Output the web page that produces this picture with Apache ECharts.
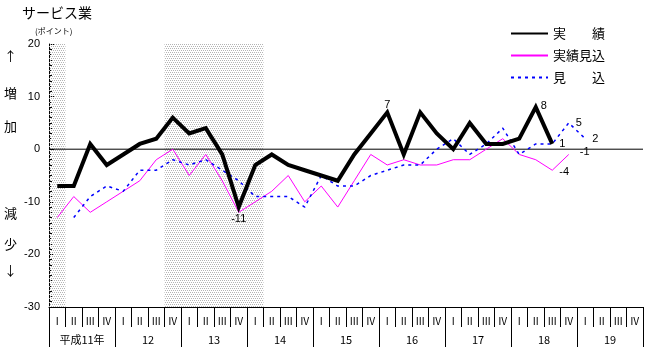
<!DOCTYPE html>
<html>
<head>
<meta charset="utf-8">
<script src="https://cdn.jsdelivr.net/npm/echarts@6/dist/echarts.min.js"></script>
<style>
  html, body { margin: 0; padding: 0; background: #fff; }
  #chart { width: 646px; height: 350px; }
</style>
</head>
<body>
<div id="chart"></div>
<script>
// Fiscal years (Heisei) and quarter labels
const years = ['平成11年', '12', '13', '14', '15', '16', '17', '18', '19'];
const quarterNames = ['Ⅰ', 'Ⅱ', 'Ⅲ', 'Ⅳ'];

// 実績 (actual), one value per quarter from 11-I
const actual = [
  -7, -7, 1, -3,
  -1, 1, 2, 6,
  3, 4, -1, -11,
  -3, -1, -3, -4,
  -5, -6, -1, 3,
  7, -1, 7, 3,
  0, 5, 1, 1,
  2, 8, 1, null,
  null, null, null, null
];

// 実績見込 (estimated actual)
const estimated = [
  -13, -9, -12, -10,
  -8, -6, -2, 0,
  -5, -1, -6, -12,
  -10, -8, -5, -10,
  -7, -11, -6, -1,
  -3, -2, -3, -3,
  -2, -2, 0, 2,
  -1, -2, -4, -1,
  null, null, null, null
];

// 見込 (forecast)
const forecast = [
  null, -13, -9, -7,
  -8, -4, -4, -2,
  -3, -2, -4, -6,
  -9, -9, -9, -11,
  -5, -7, -7, -5,
  -4, -3, -3, 0,
  2, -1, 1, 4,
  -1, 1, 1, 5,
  2, null, null, null
];

// Recession periods as quarter-index ranges [start, end)
const recessions = [[0, 1], [7, 13]];

// Value axis range
const yMin = -30, yMax = 20, yStep = 10;

const seriesNames = ['実　　績', '実績見込', '見　　込'];

const quarters = [];
years.forEach(() => quarterNames.forEach(q => quarters.push(q)));

// Stippled fill for the recession bands
function stipple() {
  const c = document.createElement('canvas');
  c.width = 4; c.height = 4;
  const g = c.getContext('2d');
  g.fillStyle = '#b4b4b4';
  g.fillRect(0, 0, 1, 1);
  g.fillRect(2, 0, 1, 1);
  g.fillRect(1, 2, 1, 1);
  g.fillRect(3, 2, 1, 1);
  return c;
}

const numFont = 'Liberation Sans';
const jpFont = 'Noto Sans CJK JP';

// Attach a value label (and an invisible anchor symbol) to selected points
function withLabels(values, spec) {
  return values.map((v, i) => {
    if (spec[i] === undefined || v === null) return v;
    return {
      value: v,
      symbol: 'circle',
      symbolSize: 0,
      label: Object.assign({
        show: true, formatter: '{c}', color: '#000',
        fontSize: 11, fontFamily: numFont
      }, spec[i])
    };
  });
}

const chart = echarts.init(document.getElementById('chart'), null, { renderer: 'canvas' });

const sideText = [
  ['↑', 58], ['増', 95], ['加', 128], ['減', 215], ['少', 246], ['↓', 272]
].map(([t, y]) => ({
  type: 'text', left: 4, top: y - 8,
  style: { text: t, font: '13px "' + jpFont + '"', fill: '#000' }
}));

chart.setOption({
  animation: false,
  backgroundColor: '#fff',
  textStyle: { fontFamily: jpFont },
  grid: { left: 49, right: 3, top: 44, bottom: 43, containLabel: false },
  graphic: [
    { type: 'text', left: 22, top: 6,
      style: { text: 'サービス業', font: '14px "' + jpFont + '"', fill: '#000' } },
    { type: 'text', left: 35, top: 27,
      style: { text: '(ポイント)', font: '8px "' + jpFont + '"', fill: '#000' } }
  ].concat(sideText),
  legend: {
    orient: 'vertical',
    left: 505, top: 22,
    itemWidth: 37, itemHeight: 14, itemGap: 9,
    data: seriesNames,
    itemStyle: { opacity: 0 },
    textStyle: { fontSize: 13, color: '#000', fontFamily: jpFont },
    selectedMode: false
  },
  xAxis: [
    {
      type: 'category', data: quarters, position: 'bottom', boundaryGap: true,
      axisLine: { show: true, onZero: false, lineStyle: { color: '#000', width: 1 } },
      axisTick: { show: true, interval: 0, length: 20, lineStyle: { color: '#000' } },
      axisLabel: { interval: 0, margin: 9, fontSize: 10, color: '#000', fontFamily: jpFont },
      splitLine: { show: false }
    },
    {
      type: 'category', data: years, position: 'bottom', boundaryGap: true,
      axisLine: { show: false, onZero: false },
      axisTick: { show: true, interval: 0, length: 40, lineStyle: { color: '#000' } },
      axisLabel: { interval: 0, margin: 27, fontSize: 11, color: '#000', fontFamily: jpFont },
      splitLine: { show: false }
    },
    {
      type: 'value', min: 0, max: quarters.length, show: false,
      axisLine: { onZero: false }
    }
  ],
  yAxis: {
    type: 'value', min: yMin, max: yMax, interval: yStep,
    axisLine: { show: true, lineStyle: { color: '#000', width: 1 } },
    axisTick: { show: true, inside: true, length: 5, lineStyle: { color: '#000' } },
    minorTick: { show: true, splitNumber: 10, length: 3, lineStyle: { color: '#000' } },
    axisLabel: { margin: 9, fontSize: 11, color: '#000', fontFamily: numFont },
    splitLine: { show: false }
  },
  series: [
    {
      // zero reference line plus shaded recession bands
      type: 'line', xAxisIndex: 2, yAxisIndex: 0, silent: true, z: 1,
      symbol: 'none',
      data: [[0, 0], [quarters.length, 0]],
      lineStyle: { color: '#000', width: 1 },
      markArea: {
        silent: true,
        itemStyle: { color: { image: stipple(), repeat: 'repeat' } },
        data: recessions.map(r => [{ xAxis: r[0] }, { xAxis: r[1] }])
      }
    },
    {
      name: seriesNames[1], type: 'line', xAxisIndex: 0, z: 3,
      symbol: 'none', showAllSymbol: true, silent: true,
      lineStyle: { color: '#ff00ff', width: 1 },
      itemStyle: { color: '#ff00ff' },
      data: withLabels(estimated, {
        30: { position: 'right', offset: [2, 2] },
        31: { position: 'right', offset: [6, -2] }
      })
    },
    {
      name: seriesNames[2], type: 'line', xAxisIndex: 0, z: 4,
      symbol: 'none', showAllSymbol: true, silent: true,
      lineStyle: { color: '#0000ff', width: 1.5, type: [3, 4] },
      itemStyle: { color: '#0000ff' },
      data: withLabels(forecast, {
        31: { position: 'right', offset: [2, 0] },
        32: { position: 'right', offset: [2, 0] }
      })
    },
    {
      name: seriesNames[0], type: 'line', xAxisIndex: 0, z: 5,
      symbol: 'none', showAllSymbol: true, silent: true,
      lineStyle: { color: '#000', width: 4, join: 'miter' },
      itemStyle: { color: '#000' },
      data: withLabels(actual, {
        11: { position: 'bottom', distance: 6 },
        20: { position: 'top', distance: 2 },
        29: { position: 'right', offset: [0, -1] },
        30: { position: 'right', offset: [2, 0] }
      })
    }
  ]
});
</script>
</body>
</html>
